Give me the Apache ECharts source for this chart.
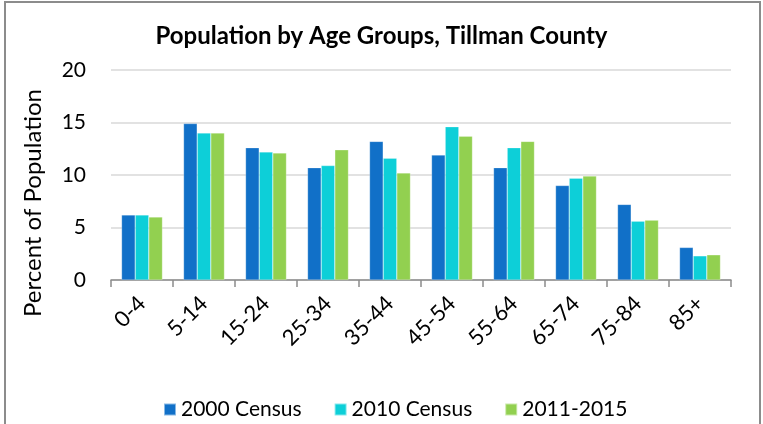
<!DOCTYPE html>
<html>
<head>
<meta charset="utf-8">
<script src="https://cdn.jsdelivr.net/npm/echarts@6/dist/echarts.min.js"></script>
<style>
html,body{margin:0;padding:0;background:#fff;}
#main{width:763px;height:424px;}
</style>
</head>
<body>
<div id="main"></div>
<script>
const categories = ['0-4','5-14','15-24','25-34','35-44','45-54','55-64','65-74','75-84','85+'];
const census2000 = [6.2, 14.9, 12.6, 10.7, 13.2, 11.9, 10.7, 9.0, 7.2, 3.1];
const census2010 = [6.2, 14.0, 12.2, 10.9, 11.6, 14.6, 12.6, 9.7, 5.6, 2.3];
const acs2011_2015 = [6.0, 14.0, 12.1, 12.4, 10.2, 13.7, 13.2, 9.9, 5.7, 2.4];
const seriesNames = ['2000 Census', '2010 Census', '2011-2015'];
const yTicks = { min: 0, max: 20, interval: 5 };

const FONT = 'Lato, "Open Sans", sans-serif';
const chart = echarts.init(document.getElementById('main'), null, { renderer: 'canvas' });
const colors = ['#1170C8', '#0DCFD8', '#92D050'];
const datasets = [census2000, census2010, acs2011_2015];

chart.setOption({
  animation: false,
  backgroundColor: '#ffffff',
  title: {
    text: 'Population by Age Groups, Tillman County',
    left: 'center',
    top: 19,
    textStyle: { fontFamily: FONT, fontWeight: 'bold', fontSize: 24, color: '#000' }
  },
  grid: { left: 111, right: 32, top: 70, bottom: 144, containLabel: false },
  legend: {
    top: 394,
    left: 158,
    itemWidth: 12,
    itemHeight: 12,
    itemGap: 32,
    icon: 'rect',
    textStyle: { fontFamily: FONT, fontSize: 21, color: '#000' },
    data: seriesNames
  },
  xAxis: {
    type: 'category',
    data: categories,
    axisLine: { lineStyle: { color: '#8c8c8c', width: 1.5 } },
    axisTick: { show: true, length: 7, lineStyle: { color: '#8c8c8c', width: 1.5 } },
    axisLabel: { rotate: 45, fontFamily: FONT, fontSize: 22, color: '#000', margin: 20 }
  },
  yAxis: {
    type: 'value',
    min: yTicks.min, max: yTicks.max, interval: yTicks.interval,
    axisLine: { show: false },
    axisTick: { show: false },
    splitLine: { lineStyle: { color: '#d9d9d9', width: 1.5 } },
    axisLabel: { fontFamily: FONT, fontSize: 21, color: '#000', margin: 25 }
  },
  graphic: [
    {
      type: 'rect',
      shape: { x: 5, y: 2, width: 755, height: 440 },
      style: { fill: 'none', stroke: '#8c8c8c', lineWidth: 2 },
      silent: true
    },
    {
      type: 'text',
      x: 33, y: 203,
      rotation: Math.PI / 2,
      style: {
        text: 'Percent of Population',
        fontFamily: FONT, fontSize: 24, fill: '#000',
        align: 'center', verticalAlign: 'middle'
      }
    }
  ],
  series: seriesNames.map((name, i) => ({
    name: name,
    type: 'bar',
    data: datasets[i],
    barGap: '0%',
    barCategoryGap: '34%',
    itemStyle: { color: colors[i], borderColor: 'rgba(255,255,255,0.5)', borderWidth: 0.5 }
  }))
});
</script>
</body>
</html>
